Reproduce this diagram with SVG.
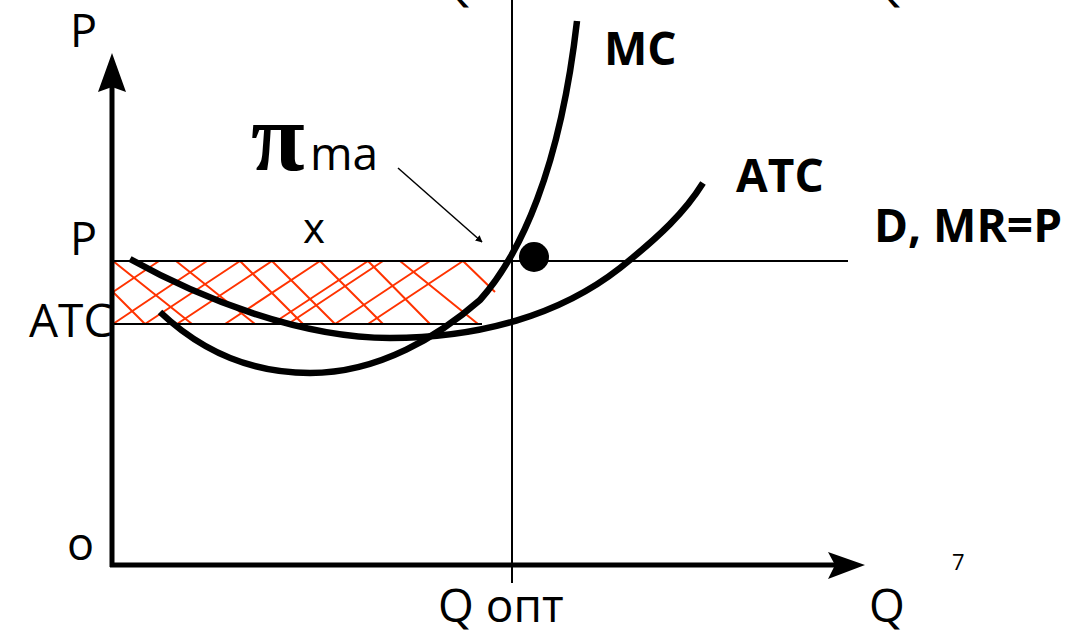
<svg xmlns="http://www.w3.org/2000/svg" width="1070" height="630" viewBox="0 0 1070 630">
<style>
.t{font-family:"Open Sans","Liberation Sans",sans-serif;fill:#000}
.b{font-family:"Open Sans","Liberation Sans",sans-serif;font-weight:bold;fill:#000}
.thin{stroke:#000;stroke-width:2;fill:none}
.curve{stroke:#000;stroke-width:6.5;fill:none;stroke-linecap:butt}
.h{stroke:#ff3300;stroke-width:2;fill:none}
</style>
<defs>
<marker id="ah" viewBox="0 0 10 10" refX="9" refY="5" markerWidth="7" markerHeight="7" orient="auto" markerUnits="userSpaceOnUse">
<path d="M0,0 L10,5 L0,10 z" fill="#000"/>
</marker>
</defs>
<rect width="1070" height="630" fill="#fff"/>
<g id="hatch">
<path class="h" d="M113,261 L192,324 M176,261 L255,324 M240,261 L303,324 M272,261 L335,324 M320,261 L383,324 M368,261 L430,324 M400,261 L478,324 M463,261 L495,292 M113,292 L145,324"/>
<path class="h" d="M159,261 L113,292 M207,261 L113,324 M240,261 L145,324 M272,261 L177,324 M320,261 L225,324 M368,261 L272,324 M383,261 L288,324 M430,261 L335,324 M463,261 L368,324"/>
</g>
<g id="connectors">
<line class="thin" x1="512" y1="0" x2="512" y2="583"/>
<line class="thin" x1="112" y1="261" x2="848" y2="261"/>
<line class="thin" x1="112" y1="324" x2="482" y2="324"/>
<line x1="112" y1="567" x2="112" y2="80" stroke="#000" stroke-width="5"/>
<polygon points="112,53 126,92 112,87 98,92" fill="#000"/>
<line x1="110" y1="565" x2="835" y2="565" stroke="#000" stroke-width="5"/>
<polygon points="865,565 828,552 835,565 828,579" fill="#000"/>
<line x1="398" y1="168" x2="482" y2="242" stroke="#000" stroke-width="1.5" marker-end="url(#ah)"/>
</g>
<g id="mc-curve">
<path class="curve" d="M160,312 C200,350 250,373 310,373 C380,373 440,335 480,300 C520,255 560,170 577,21"/>
</g>
<g id="atc-curve">
<path class="curve" d="M130,259 C200,298 300,338 390,338 C480,338 560,315 620,268 C660,236 685,212 703,183"/>
</g>
<g id="point">
<circle cx="534" cy="257" r="15" fill="#000"/>
</g>
<g id="labels">
<text class="t" x="70" y="47" font-size="45">P</text>
<text class="t" x="70" y="255" font-size="45">P</text>
<text class="t" x="29" y="337" font-size="46">ATC</text>
<text class="t" x="67" y="560" font-size="45">o</text>
<text class="t" x="303" y="243" font-size="42">x</text>
<text x="251" y="170" font-size="98" font-weight="bold" font-family="'Liberation Serif','DejaVu Serif',serif">π</text>
<text class="t" x="310" y="170" font-size="46">ma</text>
<text class="b" x="604" y="65" font-size="46">MC</text>
<text class="b" x="736" y="192" font-size="46">ATC</text>
<text class="b" x="874" y="242" font-size="46">D, MR=P</text>
<text class="t" x="438" y="622" font-size="46">Q опт</text>
<text class="t" x="869" y="622" font-size="46">Q</text>
<text class="t" x="438" y="0" font-size="46">Q опт</text>
<text class="t" x="869" y="0" font-size="46">Q</text>
<text class="t" x="952" y="570" font-size="22">7</text>
</g>
</svg>
